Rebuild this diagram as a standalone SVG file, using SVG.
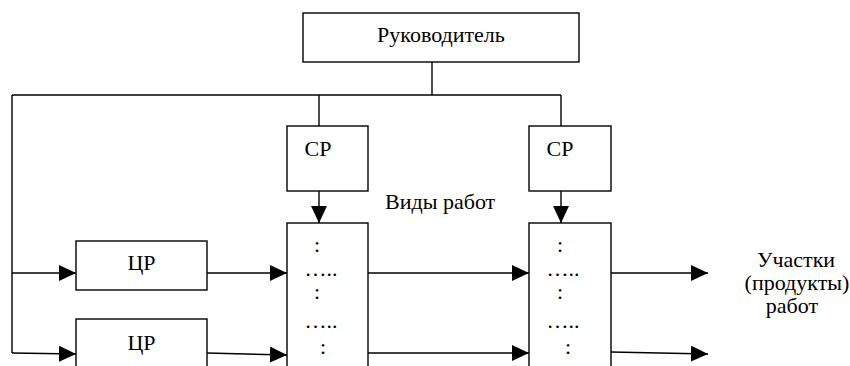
<svg xmlns="http://www.w3.org/2000/svg" width="850" height="366" viewBox="0 0 850 366">
<defs>
<marker id="arr" markerUnits="userSpaceOnUse" markerWidth="18" markerHeight="18" refX="17" refY="8" orient="auto">
<path d="M0,0 L17,8 L0,16 z" fill="#000"/>
</marker>
<style>
.box{fill:#fff;stroke:#000;stroke-width:1.4}
.ln{fill:none;stroke:#000;stroke-width:1.4}
.ar{fill:none;stroke:#000;stroke-width:1.4;marker-end:url(#arr)}
.t{font-family:'Liberation Serif','Times New Roman',serif;font-size:22px;fill:#000}
.c{text-anchor:middle}
</style>
</defs>
<rect width="850" height="366" fill="#fff"/>
<g id="connectors">
<path class="ln" d="M432,62 V95"/>
<path class="ln" d="M12,95 H561"/>
<path class="ln" d="M319,95 V126"/>
<path class="ln" d="M561,95 V126"/>
<path class="ln" d="M12,95 V353"/>
<path class="ar" d="M12,273 H76"/>
<path class="ar" d="M12,353 L76,354"/>
<path class="ar" d="M319,191 V223"/>
<path class="ar" d="M561,191 V223"/>
<path class="ar" d="M207,273 H287"/>
<path class="ar" d="M207,353 L287,355"/>
<path class="ar" d="M368,273 H529"/>
<path class="ar" d="M368,353 L529,353"/>
<path class="ar" d="M611,273 H708"/>
<path class="ar" d="M611,352 L708,354"/>
</g>
<g id="head">
<rect class="box" x="303" y="13" width="276" height="49"/>
<text class="t c" x="441" y="42">Руководитель</text>
</g>
<g id="sr1">
<rect class="box" x="287" y="126" width="81" height="65"/>
<text class="t c" x="318" y="156">СР</text>
</g>
<g id="sr2">
<rect class="box" x="529" y="126" width="82" height="65"/>
<text class="t c" x="560" y="156">СР</text>
</g>
<g id="works1">
<rect class="box" x="287" y="223" width="81" height="160"/>
<text class="t c" x="317" y="252">:</text>
<text class="t c" x="321" y="276">…..</text>
<text class="t c" x="317" y="299">:</text>
<text class="t c" x="321" y="328">…..</text>
<text class="t c" x="323" y="354">:</text>
</g>
<g id="works2">
<rect class="box" x="529" y="223" width="82" height="160"/>
<text class="t c" x="560" y="252">:</text>
<text class="t c" x="563" y="276">…..</text>
<text class="t c" x="560" y="299">:</text>
<text class="t c" x="563" y="328">…..</text>
<text class="t c" x="568" y="354">:</text>
</g>
<g id="cr1">
<rect class="box" x="76" y="241" width="131" height="49"/>
<text class="t c" x="141.5" y="270">ЦР</text>
</g>
<g id="cr2">
<rect class="box" x="76" y="319" width="131" height="60"/>
<text class="t c" x="141.5" y="350">ЦР</text>
</g>
<g id="label-types">
<text class="t" x="385" y="209">Виды работ</text>
</g>
<g id="label-areas">
<text class="t c" x="796" y="267">Участки</text>
<text class="t c" x="797" y="290">(продукты)</text>
<text class="t c" x="792" y="313">работ</text>
</g>
</svg>
